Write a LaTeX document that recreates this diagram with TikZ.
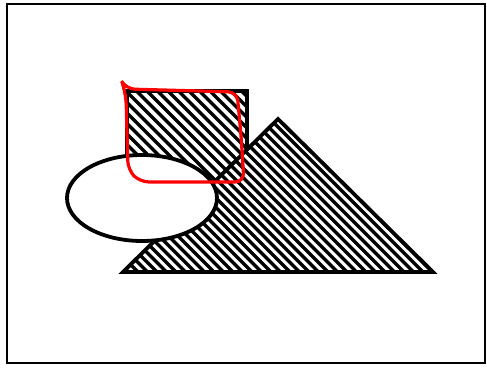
\documentclass[tikz,border=0pt]{standalone}
\begin{document}
\begin{tikzpicture}[x=1pt,y=-1pt,
  outline/.style={line width=3.8pt,line join=miter},
  hatch/.style={line width=3.3pt}]
 \useasboundingbox (0,0) rectangle (487,367);
 \draw[line width=1.8pt] (7,4) rectangle (485,363);
 % square (behind)
 \coordinate (sqa) at (127,91);
 \coordinate (sqb) at (247,211);
 \begin{scope}
  \clip (sqa) rectangle (sqb);
  \foreach \x in {0,10.5,...,250}
   \draw[hatch] (\x,91) -- ++(130,130);
 \end{scope}
 \draw[outline] (sqa) rectangle (sqb);
 % triangle
 \coordinate (top) at (278,119);
 \coordinate (right) at (433,272);
 \coordinate (left) at (123,272);
 \fill[white] (top)--(right)--(left)--cycle;
 \begin{scope}
  \clip (top)--(right)--(left)--cycle;
  \foreach \x in {100,109.5,...,440}
   \draw[hatch] (\x,272) -- ++(-170,-170);
 \end{scope}
 \draw[outline] (top)--(right)--(left)--cycle;
 % ellipse on top
 \filldraw[outline,fill=white] (142,198) ellipse [x radius=75,y radius=43];
 % red mark
 \draw[red,line width=3.2pt,line cap=round,rounded corners=9pt]
  (122,82) -- (126,89) -- (237,92) -- (241,135) -- (244,182) -- (140,182)
  -- (128,170) -- (126,96) -- (122,82);
\end{tikzpicture}
\end{document}
